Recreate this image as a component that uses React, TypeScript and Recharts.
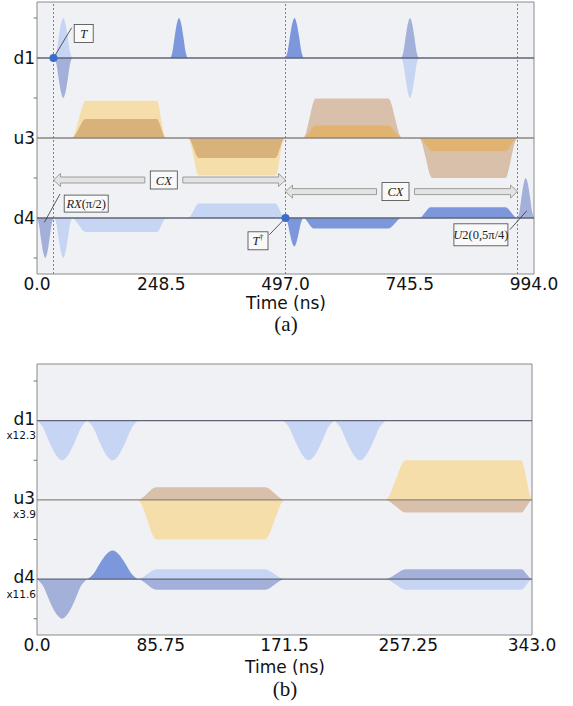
import React from 'react';
import {
  ComposedChart,
  Area,
  XAxis,
  YAxis,
  CartesianGrid,
  ReferenceLine,
  ReferenceDot,
  ReferenceArea,
} from 'recharts';

const SANS = '"DejaVu Sans", Verdana, sans-serif';
const SERIF = '"Liberation Serif", "Times New Roman", serif';

const LIGHT = '#c6d5f4';
const GRAY = '#a3b0d9';
const MED = '#7d97dd';
const YEL = '#f5dea9';
const TAN = '#d9b27b';
const BROWN = '#d8c0aa';
const ORANGE = '#e0b470';

// pulse outlines (relative time -> relative height)
const gaussPos = [0, 0.12, 0.25, 0.38, 0.5, 0.62, 0.75, 0.88, 1];
const gaussVal = [0, 0.17, 0.55, 0.87, 1, 0.87, 0.55, 0.17, 0];
const rampPos = [0, 0.15, 0.5, 0.85, 1];
const rampVal = [0, 0.08, 0.5, 0.93, 1];

type Pulse = { t: number[]; a: number; c: string };

// ---- (a) ----
const channelsA = ['d1', 'u3', 'd4'];
const offsetsA = [0, -2, -4];
const xTicksA = [0, 248.5, 497, 745.5, 994];
const xLabelsA = ['0.0', '248.5', '497.0', '745.5', '994.0'];
const markersA = [33, 497, 961];

const d1A: Pulse[] = [
  { t: [35, 70], a: 1, c: LIGHT },
  { t: [35, 70], a: -1, c: GRAY },
  { t: [267, 301], a: 1, c: MED },
  { t: [497, 533], a: 1, c: MED },
  { t: [729, 763], a: 1, c: GRAY },
  { t: [729, 763], a: -1, c: LIGHT },
];
const u3A: Pulse[] = [
  { t: [70, 97, 240, 257], a: 0.93, c: YEL },
  { t: [70, 97, 240, 257], a: 0.475, c: TAN },
  { t: [303, 323, 477, 495], a: -0.94, c: YEL },
  { t: [303, 323, 477, 495], a: -0.5, c: TAN },
  { t: [533, 557, 703, 729], a: 0.99, c: BROWN },
  { t: [533, 557, 703, 729], a: 0.31, c: ORANGE },
  { t: [765, 790, 937, 960], a: -1, c: BROWN },
  { t: [765, 790, 937, 960], a: -0.33, c: ORANGE },
];
const d4A: Pulse[] = [
  { t: [0, 33], a: -1, c: GRAY },
  { t: [35, 70], a: -1, c: LIGHT },
  { t: [70, 97, 240, 258], a: -0.35, c: LIGHT },
  { t: [303, 323, 477, 495], a: 0.36, c: LIGHT },
  { t: [497, 532], a: -0.71, c: MED },
  { t: [533, 553, 703, 729], a: -0.26, c: MED },
  { t: [765, 787, 937, 960], a: 0.27, c: MED },
  { t: [961, 994], a: 1, c: GRAY },
];

// ---- (b) ----
const channelsB = ['d1', 'u3', 'd4'];
const scalesB = ['x12.3', 'x3.9', 'x11.6'];
const offsetsB = [0, -2, -4];
const xTicksB = [0, 85.75, 171.5, 257.25, 343];
const xLabelsB = ['0.0', '85.75', '171.5', '257.25', '343.0'];

const d1B: Pulse[] = [
  { t: [0, 34.7], a: -1, c: LIGHT },
  { t: [34.7, 70], a: -1, c: LIGHT },
  { t: [170.5, 206], a: -1, c: LIGHT },
  { t: [206, 241.6], a: -1, c: LIGHT },
];
const u3B: Pulse[] = [
  { t: [70, 82.7, 158, 171.5], a: 0.32, c: BROWN },
  { t: [70, 82.7, 158, 171.5], a: -1, c: YEL },
  { t: [241.6, 255.5, 335.6, 343], a: 1, c: YEL },
  { t: [241.6, 255.5, 335.6, 343], a: -0.32, c: BROWN },
];
const d4B: Pulse[] = [
  { t: [0, 34.7], a: -1, c: GRAY },
  { t: [34.7, 70], a: 0.72, c: MED },
  { t: [70, 82.7, 158, 171.5], a: 0.25, c: LIGHT },
  { t: [70, 82.7, 158, 171.5], a: -0.27, c: GRAY },
  { t: [241.6, 255.5, 335.6, 343], a: 0.25, c: GRAY },
  { t: [241.6, 255.5, 335.6, 343], a: -0.27, c: LIGHT },
];

function pulsePoints(p: Pulse, base: number) {
  if (p.t.length === 2) {
    const [t0, t1] = p.t;
    return gaussPos.map((f, i) => ({ x: t0 + f * (t1 - t0), r: [base, base + p.a * gaussVal[i]] }));
  }
  const [t0, t1, t2, t3] = p.t;
  const n = rampVal.length - 1;
  const up = rampPos.map((f, i) => ({ x: t0 + f * (t1 - t0), r: [base, base + p.a * rampVal[i]] }));
  const down = rampPos.map((f, i) => ({ x: t2 + f * (t3 - t2), r: [base, base + p.a * rampVal[n - i]] }));
  return [...up, ...down];
}

const makeTick = (offsets: number[], names: string[], scales?: string[]) => (props: any) => {
  const { x, y, payload } = props;
  const i = offsets.indexOf(payload.value);
  if (i < 0) {
    return <line x1={x - 1.5} x2={x + 2} y1={y} y2={y} stroke="#555" strokeWidth={0.8} />;
  }
  return (
    <g>
      <text x={x} y={scales ? y + 4 : y + 5.5} textAnchor="end" fontSize={17} fontFamily={SANS} fill="#111">
        {names[i]}
      </text>
      {scales && (
        <text x={x + 1} y={y + 18.5} textAnchor="end" fontSize={10.5} fontFamily={SANS} fill="#111">
          {scales[i]}
        </text>
      )}
    </g>
  );
};

const BoxLabel = ({ cx, cy, w, h, children }: any) => (
  <g>
    <rect x={cx - w / 2} y={cy - h / 2} width={w} height={h} fill="#f9f9f9" stroke="#444" strokeWidth={0.8} />
    <text x={cx} y={cy + 4.5} textAnchor="middle" fontFamily={SERIF} fontSize={12.5} fill="#222">
      {children}
    </text>
  </g>
);

// hollow double-headed arrow with a boxed label
const GateArrow = ({ x1, y1, x2, frac, label }: any) => {
  const y = y1;
  const mid = x1 + frac * (x2 - x1);
  const gap = 19;
  const hl = 7;
  const hh = 6.5;
  const sh = 3;
  const left = [
    [x1, y], [x1 + hl, y - hh], [x1 + hl, y - sh], [mid - gap, y - sh],
    [mid - gap, y + sh], [x1 + hl, y + sh], [x1 + hl, y + hh],
  ];
  const right = [
    [x2, y], [x2 - hl, y - hh], [x2 - hl, y - sh], [mid + gap, y - sh],
    [mid + gap, y + sh], [x2 - hl, y + sh], [x2 - hl, y + hh],
  ];
  return (
    <g>
      <polygon points={left.map((p) => p.join(',')).join(' ')} fill="#e3e3e3" stroke="#8a8a8a" strokeWidth={0.8} />
      <polygon points={right.map((p) => p.join(',')).join(' ')} fill="#e3e3e3" stroke="#8a8a8a" strokeWidth={0.8} />
      <BoxLabel cx={mid} cy={y} w={27} h={18}>
        <tspan fontStyle="italic">{label}</tspan>
      </BoxLabel>
    </g>
  );
};

function pulseAreas(pulses: Pulse[][], offsets: number[]) {
  return pulses.map((list, ci) =>
    list.map((p, pi) => (
      <Area
        key={`p-${ci}-${pi}`}
        data={pulsePoints(p, offsets[ci])}
        dataKey="r"
        type="monotone"
        stroke="none"
        fill={p.c}
        fillOpacity={1}
        dot={false}
        activeDot={false}
        isAnimationActive={false}
      />
    ))
  );
}

const baseColors = ['#5f6577', '#8c8782', '#5f6577'];

export default function App() {
  const domA: [number, number] = [-5.4, 1.4];
  const domB: [number, number] = [-5.41, 1.43];
  return (
    <div style={{ position: 'absolute', left: 0, top: 0, width: 573, height: 706, background: '#fff' }}>
      <div style={{ position: 'absolute', left: 0, top: 0 }}>
        <ComposedChart width={573} height={310} margin={{ top: 2, right: 39, bottom: 0, left: 0 }}>
          <CartesianGrid fill="#f0f1f4" horizontal={false} vertical={false} />
          <XAxis
            dataKey="x"
            type="number"
            domain={[0, 994]}
            ticks={xTicksA}
            interval={0}
            tickFormatter={(v: number) => xLabelsA[xTicksA.indexOf(v)]}
            axisLine={false}
            tickLine={false}
            tickSize={2}
            tickMargin={2}
            height={36}
            tick={{ fill: '#111', fontSize: 17, fontFamily: SANS }}
          />
          <YAxis
            type="number"
            domain={domA}
            ticks={[1, 0, -1, -2, -3, -4, -5]}
            interval={0}
            width={37}
            axisLine={false}
            tickLine={false}
            tickSize={0}
            tickMargin={2}
            tick={makeTick(offsetsA, channelsA)}
          />
          {pulseAreas([d1A, u3A, d4A], offsetsA)}
          {offsetsA.map((o, i) => (
            <ReferenceLine key={`b-${i}`} y={o} stroke={baseColors[i]} strokeWidth={1.3} />
          ))}
          {markersA.map((m) => (
            <ReferenceLine key={`m-${m}`} x={m} stroke="#6b7590" strokeWidth={0.9} strokeDasharray="2 2" />
          ))}
          <ReferenceArea x1={0} x2={994} y1={domA[0]} y2={domA[1]} fill="none" stroke="#8a8a8a" strokeWidth={1} />
          <ReferenceLine segment={[{ x: 33, y: 0 }, { x: 69.4, y: 0.758 }]} stroke="#333" strokeWidth={0.8} />
          <ReferenceLine segment={[{ x: 497, y: -4 }, { x: 464.6, y: -4.42 }]} stroke="#333" strokeWidth={0.8} />
          <ReferenceLine segment={[{ x: 14.6, y: -4.11 }, { x: 46, y: -3.4 }]} stroke="#333" strokeWidth={0.8} />
          <ReferenceLine segment={[{ x: 946, y: -4.29 }, { x: 979.4, y: -3.82 }]} stroke="#333" strokeWidth={0.8} />
          <ReferenceDot x={33} y={0} r={4} fill="#3b6ccc" stroke="none" />
          <ReferenceDot x={497} y={-4} r={4} fill="#3b6ccc" stroke="none" />
          <ReferenceDot
            x={93.4}
            y={0.613}
            r={0}
            shape={(p: any) => (
              <BoxLabel cx={p.cx} cy={p.cy} w={19} h={18}>
                <tspan fontStyle="italic">T</tspan>
              </BoxLabel>
            )}
          />
          <ReferenceDot
            x={442}
            y={-4.57}
            r={0}
            shape={(p: any) => (
              <BoxLabel cx={p.cx} cy={p.cy} w={20} h={18}>
                <tspan fontStyle="italic">T</tspan>
                <tspan fontSize={8} dy={-5}>{'\u2020'}</tspan>
              </BoxLabel>
            )}
          />
          <ReferenceDot
            x={98.4}
            y={-3.64}
            r={0}
            shape={(p: any) => (
              <BoxLabel cx={p.cx} cy={p.cy} w={44} h={17}>
                <tspan fontStyle="italic">RX</tspan>
                <tspan>(π/2)</tspan>
              </BoxLabel>
            )}
          />
          <ReferenceDot
            x={887.8}
            y={-4.42}
            r={0}
            shape={(p: any) => (
              <BoxLabel cx={p.cx} cy={p.cy} w={54} h={22}>
                <tspan fontStyle="italic">U</tspan>
                <tspan>2(0,5π/4)</tspan>
              </BoxLabel>
            )}
          />
          <ReferenceLine
            segment={[{ x: 33, y: -3.05 }, { x: 497, y: -3.05 }]}
            shape={(p: any) => <GateArrow x1={p.x1} y1={p.y1} x2={p.x2} frac={(253.6 - 33) / (497 - 33)} label="CX" />}
          />
          <ReferenceLine
            segment={[{ x: 497, y: -3.34 }, { x: 961, y: -3.34 }]}
            shape={(p: any) => <GateArrow x1={p.x1} y1={p.y1} x2={p.x2} frac={(717 - 497) / (961 - 497)} label="CX" />}
          />
        </ComposedChart>
      </div>
      <div style={{ position: 'absolute', left: 0, top: 362 }}>
        <ComposedChart width={573} height={309} margin={{ top: 2, right: 41, bottom: 0, left: 0 }}>
          <CartesianGrid fill="#f0f1f4" horizontal={false} vertical={false} />
          <XAxis
            dataKey="x"
            type="number"
            domain={[0, 343]}
            ticks={xTicksB}
            interval={0}
            tickFormatter={(v: number) => xLabelsB[xTicksB.indexOf(v)]}
            axisLine={false}
            tickLine={false}
            tickSize={2}
            tickMargin={2}
            height={36}
            tick={{ fill: '#111', fontSize: 17, fontFamily: SANS }}
          />
          <YAxis
            type="number"
            domain={domB}
            ticks={[1, 0, -1, -2, -3, -4, -5]}
            interval={0}
            width={37}
            axisLine={false}
            tickLine={false}
            tickSize={0}
            tickMargin={2}
            tick={makeTick(offsetsB, channelsB, scalesB)}
          />
          {pulseAreas([d1B, u3B, d4B], offsetsB)}
          {offsetsB.map((o, i) => (
            <ReferenceLine key={`bb-${i}`} y={o} stroke={baseColors[i]} strokeWidth={1.3} />
          ))}
          <ReferenceArea x1={0} x2={343} y1={domB[0]} y2={domB[1]} fill="none" stroke="#8a8a8a" strokeWidth={1} />
        </ComposedChart>
      </div>
      <svg width={573} height={706} style={{ position: 'absolute', left: 0, top: 0, pointerEvents: 'none' }}>
        <text x={286} y={309} textAnchor="middle" fontFamily={SANS} fontSize={17} fill="#111">Time (ns)</text>
        <text x={286} y={331} textAnchor="middle" fontFamily={SERIF} fontSize={21} fill="#111">(a)</text>
        <text x={285} y={673} textAnchor="middle" fontFamily={SANS} fontSize={17} fill="#111">Time (ns)</text>
        <text x={285} y={696} textAnchor="middle" fontFamily={SERIF} fontSize={21} fill="#111">(b)</text>
      </svg>
    </div>
  );
}
